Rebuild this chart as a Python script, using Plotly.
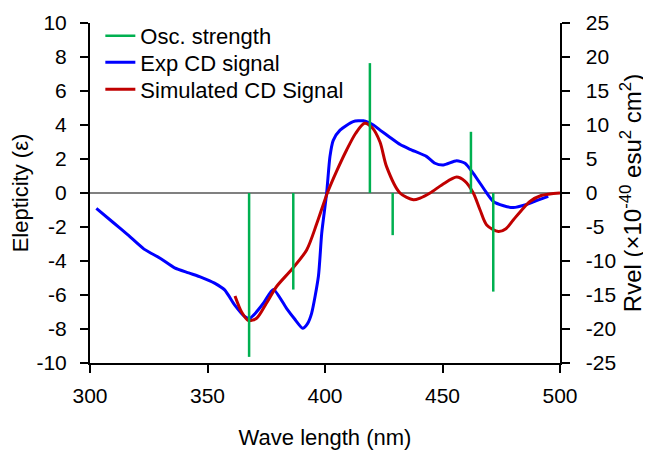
import plotly.graph_objects as go

# Experimental CD signal (left axis, ellipticity)
exp_wl = [302.7, 310, 316, 323, 330, 336, 342, 347.4, 353, 357.3, 361.6, 365.8, 368, 369.5, 373.7, 378,
          383.7, 387, 390.5, 392.5, 394.3, 397.2, 398.6, 400.7, 402.1, 403.5, 406.4, 412, 416.3, 420.6,
          423.4, 427.7, 432, 436.2, 443.3, 446.8, 450.4, 456, 459.6, 463.1, 468.8, 471.6, 476, 480.1,
          485.8, 490, 495]
exp_val = [-0.9, -1.75, -2.45, -3.3, -3.85, -4.4, -4.7, -4.96, -5.3, -5.7, -6.6, -7.27, -7.37, -7.2, -6.5, -5.67,
           -6.8, -7.4, -7.96, -7.7, -7.08, -4.9, -2.37, 0.0, 2.14, 3.1, 3.7, 4.2, 4.25, 4.0,
           3.7, 3.27, 2.85, 2.57, 2.14, 1.75, 1.65, 1.9, 1.75, 1.16, 0.0, -0.5, -0.75, -0.86,
           -0.67, -0.45, -0.2]

# Simulated CD signal (left axis)
sim_wl = [361.7, 364.5, 367.4, 370.9, 375, 379.4, 385.8, 392.2, 396.5, 401, 405, 409.2, 413, 416.8,
          420, 423.4, 426.2, 431.9, 437.6, 440.5, 444.7, 450, 456.0, 459.5, 463.1, 466, 468.8, 473.8,
          477, 480.1, 484, 487.2, 492, 500]
sim_val = [-6.06, -7.0, -7.5, -7.37, -6.5, -5.5, -4.5, -3.35, -1.8, 0.0, 1.3, 2.53, 3.5, 4.1,
           3.85, 3.0, 1.55, 0.0, -0.4, -0.3, 0.0, 0.5, 0.94, 0.7, 0.0, -1.0, -1.88, -2.27,
           -2.1, -1.59, -0.95, -0.5, -0.15, 0.0]

# Oscillator strength / rotatory strength sticks (right axis, Rvel)
osc_wl = [367.7, 386.5, 419.1, 428.8, 462.1, 471.6]
osc_val = [-24.1, -14.2, 19.1, -6.2, 9.0, -14.5]

x_ticks = [300, 350, 400, 450, 500]
y_ticks = [-10, -8, -6, -4, -2, 0, 2, 4, 6, 8, 10]
y_labels = ["-10", "-8", "-6", "-4", "-2", "0", "2", "4", "6", "8", "10"]
y2_ticks = [-25, -20, -15, -10, -5, 0, 5, 10, 15, 20, 25]
y2_labels = ["\u2007-25", "\u2007-20", "\u2007-15", "\u2007-10", "\u2007-5", "\u20070",
             "\u20075", "\u200710", "\u200715", "\u200720", "\u200725"]

stick_x, stick_y = [], []
for w, v in zip(osc_wl, osc_val):
    stick_x += [w, w, None]
    stick_y += [0, v, None]

FONT = "Liberation Sans, Arial, sans-serif"
TICK = 21
TITLE = 22
LEG = 22

fig = go.Figure()
fig.add_trace(go.Scatter(x=stick_x, y=stick_y, mode="lines", name="Osc. strength",
                         line=dict(color="#00B050", width=2.5), yaxis="y2", legend="legend"))
fig.add_trace(go.Scatter(x=exp_wl, y=exp_val, mode="lines", name="Exp CD signal",
                         line=dict(color="#0000FF", width=3, shape="spline", smoothing=0.6),
                         legend="legend2"))
fig.add_trace(go.Scatter(x=sim_wl, y=sim_val, mode="lines", name="Simulated CD Signal",
                         line=dict(color="#C00000", width=3, shape="spline", smoothing=0.8),
                         legend="legend3"))

axis_common = dict(showline=True, linecolor="black", linewidth=2, ticks="outside",
                   ticklen=8, tickwidth=2, tickcolor="black", showgrid=False, automargin=False,
                   tickfont=dict(family=FONT, size=TICK, color="black"))

leg_common = dict(x=0.022, xanchor="left", yanchor="middle", bgcolor="rgba(0,0,0,0)",
                  font=dict(family=FONT, size=LEG, color="black"), itemwidth=30,
                  borderwidth=0)

# page body has an 8px margin, so the figure is sized to fit the 651x452 window
fig.update_layout(
    width=643, height=444,
    margin=dict(l=82, r=91, t=15, b=89, autoexpand=False),
    paper_bgcolor="white", plot_bgcolor="white",
    font=dict(family=FONT, size=TITLE, color="black"),
    showlegend=True,
    legend=dict(y=(340 - 13) / 340, **leg_common),
    legend2=dict(y=(340 - 39.5) / 340, **leg_common),
    legend3=dict(y=(340 - 66.5) / 340, **leg_common),
    xaxis=dict(range=[300, 500], tickvals=x_ticks, zeroline=False, ticklabelstandoff=5,
               title=dict(text="Wave length (nm)", font=dict(size=TITLE), standoff=23), **axis_common),
    yaxis=dict(range=[-10, 10], tickvals=y_ticks, ticktext=y_labels, zeroline=True,
               zerolinecolor="#808080", zerolinewidth=1.5, ticklabelstandoff=9,
               title=dict(text="Elepticity (ε)", font=dict(size=TITLE), standoff=2), **axis_common),
    yaxis2=dict(range=[-25, 25], tickvals=y2_ticks, ticktext=y2_labels, overlaying="y",
                side="right", zeroline=False,
                title=dict(text="Rvel (×10<sup>-40</sup> esu<sup>2</sup> cm<sup>2</sup>)",
                           font=dict(size=24), standoff=0), **axis_common),
)

fig.write_html("out.html")
